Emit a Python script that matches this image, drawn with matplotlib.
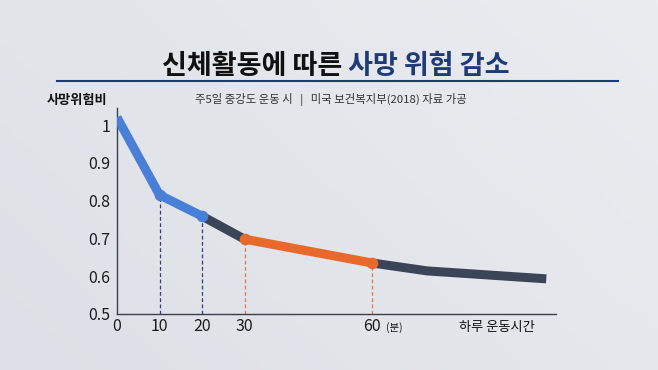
import matplotlib
matplotlib.use("Agg")
import matplotlib.pyplot as plt
import numpy as np
from matplotlib.colors import LinearSegmentedColormap

plt.rcParams['font.family'] = ['Noto Sans CJK KR', 'DejaVu Sans']

# Data
minutes = [0, 10, 20, 30, 60, 73, 101]
risk = [1.02, 0.815, 0.759, 0.698, 0.635, 0.614, 0.593]
x_ticks = [0, 10, 20, 30, 60]
x_tick_labels = ['0', '10', '20', '30', '60']
y_ticks = [0.5, 0.6, 0.7, 0.8, 0.9, 1.0]
y_tick_labels = ['0.5', '0.6', '0.7', '0.8', '0.9', '1']
title_black = '신체활동에 따른 '
title_blue = '사망 위험 감소'
subtitle = '주5일 중강도 운동 시   |   미국 보건복지부(2018) 자료 가공'
ylabel = '사망위험비'
xlabel = '하루 운동시간'
unit = '(분)'

BLUE = '#4A7FD8'
DARK = '#3C4557'
ORANGE = '#E8692B'
NAVY = '#1E3B78'
BG = '#E4E7EC'

W, H = 658, 370
fig = plt.figure(figsize=(W / 100, H / 100), dpi=100)
fig.patch.set_facecolor(BG)

# subtle background gradient
bg = fig.add_axes([0, 0, 1, 1], zorder=-10)
gx = np.linspace(0, 1, 200)
gy = np.linspace(0, 1, 120)
GX, GY = np.meshgrid(gx, gy)
grad = 0.5 * GX + 0.3 * (1 - GY)
cmap = LinearSegmentedColormap.from_list('bg', ['#DDE0E6', '#EAECF0'])
bg.imshow(grad, cmap=cmap, aspect='auto', extent=[0, 1, 0, 1], origin='upper')
bg.axis('off')

# axes placement in pixels
x0_px, x1_px = 117, 556
y_bot_px, y_top_px = 314, 108
ax = fig.add_axes([x0_px / W, 1 - y_bot_px / H, (x1_px - x0_px) / W, (y_bot_px - y_top_px) / H])
ax.set_facecolor('none')
px_per_unit = 4.25
ax.set_xlim(0, (x1_px - x0_px) / px_per_unit)
ax.set_ylim(0.5, 0.5 + (y_bot_px - y_top_px) / 378.0)

for s in ['top', 'right']:
    ax.spines[s].set_visible(False)
for s in ['left', 'bottom']:
    ax.spines[s].set_color('#3A3F4A')
    ax.spines[s].set_linewidth(1.0)

ax.set_xticks(x_ticks)
ax.set_xticklabels(x_tick_labels, fontsize=11.5, color='#1a1a1a')
ax.set_yticks(y_ticks)
ax.set_yticklabels(y_tick_labels, fontsize=11.5, color='#1a1a1a')
ax.tick_params(length=0, pad=3)
ax.tick_params(axis='y', pad=5)

lw = 6.5


def seg(i, j, c, z=3):
    ax.plot(minutes[i:j + 1], risk[i:j + 1], color=c, lw=lw, solid_capstyle='butt',
            solid_joinstyle='round', zorder=z)


seg(0, 2, BLUE, 4)
seg(2, 3, DARK, 3)
seg(3, 4, ORANGE, 4)
seg(4, 6, DARK, 3)

# markers
ax.scatter(minutes[1:3], risk[1:3], s=70, color=BLUE, zorder=5, linewidths=0)
ax.scatter(minutes[3:5], risk[3:5], s=70, color=ORANGE, zorder=5, linewidths=0)

# dashed drop lines
for i in [1, 2]:
    ax.plot([minutes[i], minutes[i]], [0.5, risk[i]], color='#2B3F7A', lw=0.9,
            ls=(0, (3, 2)), zorder=2)
for i in [3, 4]:
    ax.plot([minutes[i], minutes[i]], [0.5, risk[i]], color='#E07A4A', lw=0.9,
            ls=(0, (3, 2)), zorder=2)

# title
t1 = fig.text(0, 0, title_black, fontsize=19.5, fontweight='heavy', color='#111111')
fig.canvas.draw()
r = fig.canvas.get_renderer()
t2 = fig.text(0, 0, title_blue, fontsize=19.5, fontweight='heavy', color=NAVY)
w1 = t1.get_window_extent(r).width
w2 = t2.get_window_extent(r).width
start = 335.5 - (w1 + w2) / 2
ty = 1 - 74 / H
t1.set_position((start / W, ty))
t2.set_position(((start + w1) / W, ty))

# title underline
fig.add_artist(plt.Line2D([57 / W, 618 / W], [1 - 81 / H, 1 - 81 / H], color=NAVY, lw=1.5))

fig.text(331 / W, 1 - 100 / H, subtitle, fontsize=8.2, color='#333333', ha='center', va='center')
fig.text(77 / W, 1 - 100 / H, ylabel, fontsize=9.5, color='#111111', ha='center', va='center',
         fontweight='bold')
fig.text(497 / W, 1 - 328 / H, xlabel, fontsize=9.5, color='#111111', ha='center', va='center')
fig.text(394 / W, 1 - 328 / H, unit, fontsize=7.5, color='#111111', ha='center', va='center')

fig.savefig('out.png', dpi=100, facecolor=fig.get_facecolor())
